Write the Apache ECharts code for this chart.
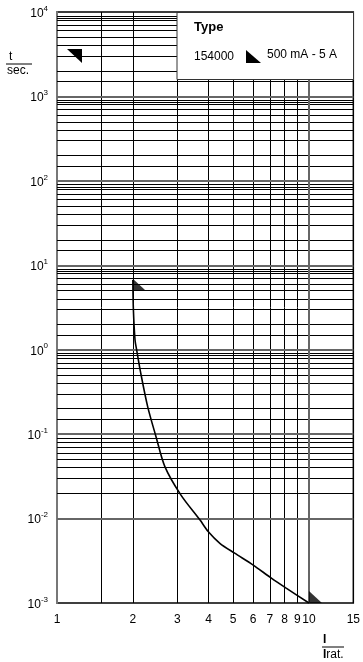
<!DOCTYPE html>
<html><head><meta charset="utf-8">
<script src="https://cdn.jsdelivr.net/npm/echarts@6/dist/echarts.min.js"></script>
<style>html,body{margin:0;padding:0;background:#fff}#c{width:363px;height:662px}</style>
</head><body><div id="c"></div>
<script>
// curve: current ratio I/Irat vs time (s)
const currentRatio = [2.0, 2.01, 2.04, 2.07, 2.15, 2.29, 2.47, 2.68, 3.10, 3.69, 3.98, 4.43, 5.07, 5.99, 7.09, 8.12, 10.0];
const timeSec      = [6.7, 2.97, 1.31, 1.0, 0.527, 0.212, 0.094, 0.0413, 0.0191, 0.00966, 0.00702, 0.0051, 0.00389, 0.00283, 0.00197, 0.0015, 0.001];
const markerX = [2, 10];
const markerY = [5.0, 0.001];
const xTickLabels = [1, 2, 3, 4, 5, 6, 7, 8, 9, 10, 15];
const xGridValues = [1.5, 2, 3, 4, 5, 6, 7, 8, 9];
const xMajorGrid = [10];
const yDecadeExponents = [-3, -2, -1, 0, 1, 2, 3, 4];
const yMinorMultipliers = [1.5, 2, 3, 4, 5, 6, 7, 8, 8.5, 9];
const legendTitle = 'Type';
const legendCode = '154000';
const legendRange = '500 mA - 5 A';

const FONT = 'Liberation Sans, Arial, sans-serif';
const minorY = [];
yDecadeExponents.slice(0, -1).forEach(e => yMinorMultipliers.forEach(m => minorY.push(m * Math.pow(10, e))));
const majorY = yDecadeExponents.slice(1, -1).map(e => Math.pow(10, e));

const chart = echarts.init(document.getElementById('c'), null, {renderer: 'canvas'});
const thin = {color: '#000', width: 1, type: 'solid'};
const thick = {color: '#666', width: 2, type: 'solid'};
chart.setOption({
  animation: false,
  backgroundColor: '#fff',
  grid: {left: 57, right: 9, top: 12, bottom: 59, show: true, borderColor: '#000', borderWidth: 1.5},
  xAxis: {
    type: 'log', logBase: 10, min: 1, max: 15,
    axisLine: {show: false}, axisTick: {show: false}, splitLine: {show: false},
    axisLabel: {customValues: xTickLabels, color: '#000', fontFamily: FONT, fontSize: 12, margin: 11,
      formatter: v => String(Math.round(v * 100) / 100)}
  },
  yAxis: {
    type: 'log', logBase: 10, min: 0.001, max: 10000, interval: 1,
    axisLine: {show: true, lineStyle: {color: '#777', width: 2}}, axisTick: {show: false}, splitLine: {show: false},
    axisLabel: {color: '#000', margin: 9,
      formatter: v => '{b|10}{s|' + Math.round(Math.log10(v)) + '}',
      rich: {b: {fontFamily: FONT, fontSize: 12, color: '#000', lineHeight: 15, verticalAlign: 'bottom'},
             s: {fontFamily: FONT, fontSize: 8, color: '#000', lineHeight: 8, verticalAlign: 'top'}}}
  },
  series: [
    {type: 'line', data: [], silent: true, z: 1,
     markLine: {silent: true, symbol: ['none', 'none'], label: {show: false}, animation: false,
       data: [
         ...minorY.map(v => ({yAxis: v, lineStyle: thin})),
         ...xGridValues.map(v => ({xAxis: v, lineStyle: thin})),
         ...majorY.map(v => ({yAxis: v, lineStyle: thick})),
         ...xMajorGrid.map(v => ({xAxis: v, lineStyle: thick}))
       ]}},
    {type: 'line', z: 5, smooth: 0.3, showSymbol: false, lineStyle: {color: '#000', width: 1.6},
     data: currentRatio.map((x, i) => [x, timeSec[i]])},
    {type: 'scatter', z: 6, symbol: 'path://M0,0 L0,12 L13,12 Z', symbolSize: [13, 12], symbolOffset: [6.5, -6],
     itemStyle: {color: '#000'}, data: markerX.map((x, i) => [x, markerY[i]])}
  ],
  graphic: [
    {type: 'rect', z: 100, shape: {x: 177, y: 12.5, width: 176.5, height: 67}, style: {fill: '#fff', stroke: '#333', lineWidth: 1}},
    {type: 'text', z: 101, style: {x: 194, y: 21, text: legendTitle, font: 'bold 13px ' + FONT, fill: '#000'}},
    {type: 'text', z: 101, style: {x: 194, y: 51, text: legendCode, font: '12px ' + FONT, fill: '#000'}},
    {type: 'polygon', z: 101, shape: {points: [[246, 50], [246, 63], [261, 63]]}, style: {fill: '#000'}},
    {type: 'text', z: 101, style: {x: 267, y: 49, text: legendRange, font: '12px ' + FONT, fill: '#000'}},
    {type: 'polygon', z: 101, shape: {points: [[67, 49], [82, 49], [82, 63]]}, style: {fill: '#000'}},
    {type: 'text', z: 101, style: {x: 9, y: 51, text: 't', font: '12px ' + FONT, fill: '#000'}},
    {type: 'line', z: 101, shape: {x1: 6, y1: 64, x2: 32, y2: 64}, style: {stroke: '#000', lineWidth: 1}},
    {type: 'text', z: 101, style: {x: 7, y: 65, text: 'sec.', font: '12px ' + FONT, fill: '#000'}},
    {type: 'text', z: 101, style: {x: 323, y: 634, text: 'I', font: 'bold 12px ' + FONT, fill: '#000'}},
    {type: 'line', z: 101, shape: {x1: 322, y1: 647, x2: 344, y2: 647}, style: {stroke: '#000', lineWidth: 1}},
    {type: 'text', z: 101, style: {x: 323, y: 649, text: '{i|I}rat.', font: '12px ' + FONT, fill: '#000',
      rich: {i: {font: 'bold 12px ' + FONT, fill: '#000'}}}}
  ]
});
</script></body></html>
